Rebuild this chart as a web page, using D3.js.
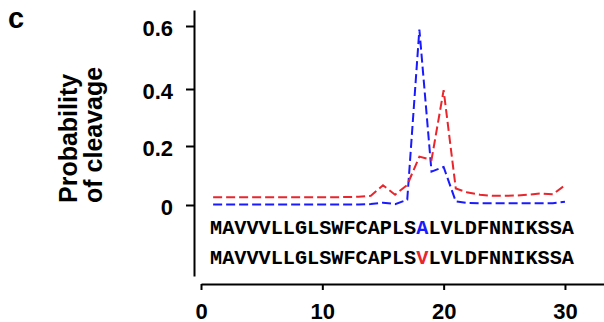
<!DOCTYPE html>
<html>
<head>
<meta charset="utf-8">
<script src="https://cdn.jsdelivr.net/npm/d3@7"></script>
<style>
  body { margin: 0; background: #fff; }
  svg { display: block; font-family: "Liberation Sans", Arial, Helvetica, sans-serif; }
</style>
</head>
<body>
<svg id="chart"></svg>
<script>
// residue positions 1..30
const positions = d3.range(1, 31)
// probability of cleavage, wild type (A) and mutant (V)
const blueVals = [0.002, 0.002, 0.002, 0.002, 0.002, 0.002, 0.002, 0.002, 0.002, 0.002,
                  0.002, 0.002, 0.002, 0.003, 0.008, 0.003, 0.018, 0.589, 0.113, 0.129,
                  0.012, 0.007, 0.006, 0.006, 0.006, 0.006, 0.006, 0.006, 0.006, 0.011]
const redVals = [0.026, 0.026, 0.026, 0.026, 0.026, 0.026, 0.026, 0.026, 0.026, 0.026,
                 0.026, 0.027, 0.028, 0.031, 0.067, 0.035, 0.068, 0.164, 0.153, 0.396,
                 0.056, 0.042, 0.035, 0.031, 0.031, 0.032, 0.035, 0.039, 0.036, 0.067]
const yTicks = [0, 0.2, 0.4, 0.6]
const xTicks = [0, 10, 20, 30]
const seqA = ['MAVVVLLGLSWFCAPLS', 'A', 'LVLDFNNIKSSA']
const seqV = ['MAVVVLLGLSWFCAPLS', 'V', 'LVLDFNNIKSSA']

const W = 604, H = 322
const svg = d3.select('#chart').attr('width', W).attr('height', H)

const x = d3.scaleLinear().domain([0, 33.3]).range([201, 605])
const y = d3.scaleLinear()
  .domain([-0.24, 0, 0.2, 0.4, 0.6, 0.652])
  .range([276, 205, 146, 89, 26, 10])

// y axis
const yAxis = svg.append('g')
  .attr('transform', 'translate(194,0)')
  .call(d3.axisLeft(y).tickValues(yTicks).tickSize(8).tickSizeOuter(0).tickPadding(13)
    .tickFormat(d => d === 0 ? '0' : d3.format('.1f')(d)))
yAxis.selectAll('path, line').attr('stroke', '#000').attr('stroke-width', 2)
yAxis.selectAll('text').attr('font-size', 22).attr('font-weight', 'bold')
  .attr('font-family', '"Liberation Sans", Arial, sans-serif').attr('dy', '0.45em')

// x axis
const xAxis = svg.append('g')
  .attr('transform', 'translate(0,284)')
  .call(d3.axisBottom(x).tickValues(xTicks).tickSize(6).tickSizeOuter(0).tickPadding(13))
xAxis.selectAll('path, line').attr('stroke', '#000').attr('stroke-width', 2)
xAxis.selectAll('text').attr('font-size', 22).attr('font-weight', 'bold')
  .attr('font-family', '"Liberation Sans", Arial, sans-serif')

// lines
const line = d3.line().x((d, i) => x(positions[i])).y(d => y(d))

svg.append('path').datum(blueVals)
  .attr('d', line).attr('fill', 'none')
  .attr('stroke', '#1a1aff').attr('stroke-width', 2)
  .attr('stroke-dasharray', '9,4')

svg.append('path').datum(redVals)
  .attr('d', line).attr('fill', 'none')
  .attr('stroke', '#e8262c').attr('stroke-width', 2)
  .attr('stroke-dasharray', '9,4')

// sequences
const seqs = [[seqA, '#1a1aff', 234], [seqV, '#e8262c', 264]]
seqs.forEach(([parts, col, yy]) => {
  const t = svg.append('text')
    .attr('x', 210).attr('y', yy)
    .attr('font-family', '"Liberation Mono", "Courier New", monospace')
    .attr('font-weight', 'bold').attr('font-size', 20)
    .attr('textLength', 364).attr('lengthAdjust', 'spacingAndGlyphs')
  parts.forEach((p, i) => {
    t.append('tspan').text(p).attr('fill', i === 1 ? col : '#000')
  })
})

// y title
const title = svg.append('text')
  .attr('transform', 'translate(0,203) rotate(-90)')
  .attr('font-size', 25).attr('font-weight', 'bold')
title.append('tspan').attr('x', 0).attr('y', 77).text('Probability')
title.append('tspan').attr('x', 0).attr('y', 102).text('of cleavage')

// panel label
svg.append('text')
  .attr('x', 8).attr('y', 28)
  .attr('font-size', 29).attr('font-weight', 'bold')
  .text('c')
</script>
</body>
</html>
